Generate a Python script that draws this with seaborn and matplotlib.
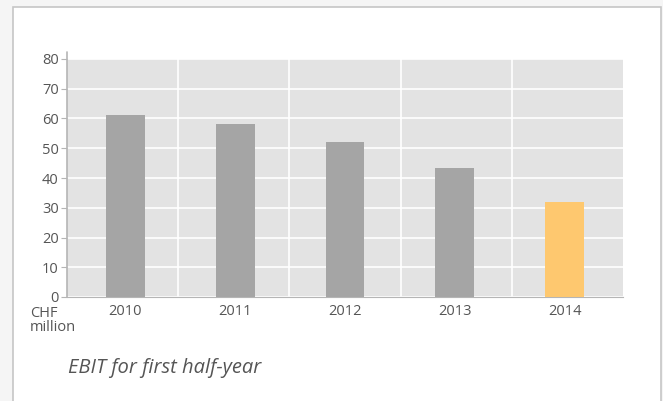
import matplotlib.pyplot as plt
import matplotlib.patches as mpatches
import seaborn as sns
import pandas as pd

# Dados
anos = ['2010', '2011', '2012', '2013', '2014']
ebit = [61.2, 58.2, 52.1, 43.3, 32.0]
cores = ['#a5a5a5', '#a5a5a5', '#a5a5a5', '#a5a5a5', '#fec86f']

df = pd.DataFrame({'Ano': anos, 'EBIT': ebit})

sns.set_style('white')
plt.rcParams['font.family'] = ['Open Sans', 'DejaVu Sans']

fig = plt.figure(figsize=(6.63, 4.01), dpi=100, facecolor='#f5f5f5')

# caixa branca de fundo
fig.patches.append(mpatches.Rectangle((12.5 / 663, -0.01), 648.5 / 663, 1.01 - 7 / 401,
                                      transform=fig.transFigure, facecolor='white',
                                      edgecolor='#c6c6c6', linewidth=1.2, zorder=-10))

ax = fig.add_axes([67 / 663, 1 - 297 / 401, 556 / 663, 238 / 401])
ax.set_facecolor('#e3e3e3')

sns.barplot(data=df, x='Ano', y='EBIT', hue='Ano', palette=cores, legend=False,
            width=0.355, saturation=1, linewidth=0, ax=ax, zorder=3)

ax.set_ylim(0, 80)
ax.set_xlim(-0.533, 4.533)
ax.set_yticks(range(0, 81, 10))
ax.grid(axis='y', which='major', color='white', linewidth=1.2, zorder=1)
ax.grid(axis='x', visible=False)
# linhas verticais dividindo a área em 5 faixas iguais
x0, x1 = ax.get_xlim()
for f in [0.2, 0.4, 0.6, 0.8]:
    ax.axvline(x0 + f * (x1 - x0), color='white', linewidth=1.2, zorder=1)

for s in ['top', 'right']:
    ax.spines[s].set_visible(False)
ax.spines['bottom'].set_color('#b5b5b5')
ax.spines['left'].set_visible(False)
ax.plot([0, 0], [0, 1.03], transform=ax.transAxes, color='#b5b5b5',
        linewidth=1.2, clip_on=False, zorder=5)

ax.tick_params(axis='y', which='major', left=True, length=4, color='#b5b5b5',
               labelsize=10.5, labelcolor='#555555', pad=2)
ax.tick_params(axis='x', which='both', bottom=False, labelsize=10.5,
               labelcolor='#555555', pad=1.5)
ax.set_xlabel('')
ax.set_ylabel('')

fig.text(30 / 663, 1 - 306 / 401, 'CHF\nmillion', ha='left', va='top',
         fontsize=10.5, color='#555555', linespacing=0.95)
fig.text(68 / 663, 1 - 373 / 401, 'EBIT for first half-year', ha='left',
         va='baseline', fontsize=14.5, color='#555555', style='italic')

plt.savefig('out.png', dpi=100, facecolor=fig.get_facecolor())
